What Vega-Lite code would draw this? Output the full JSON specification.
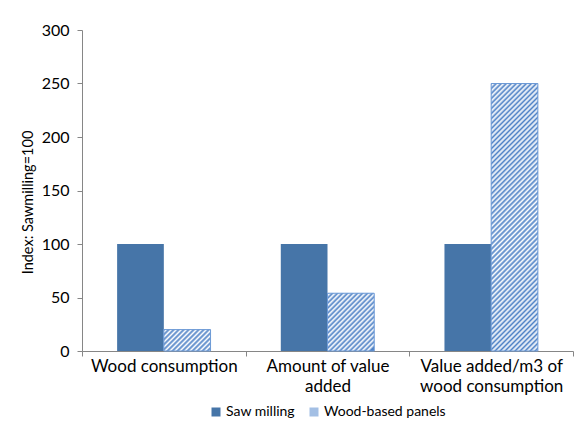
{
  "$schema": "https://vega.github.io/schema/vega-lite/v6.json",
  "width": 491,
  "height": 321,
  "autosize": {"type": "none"},
  "padding": {"left": 82, "top": 30, "right": 15, "bottom": 71},
  "background": "white",
  "config": {
    "view": {"stroke": null},
    "font": "Lato",
    "axis": {"labelFont": "Lato", "titleFont": "Lato", "labelColor": "#000", "titleColor": "#000", "domainColor": "#868686", "tickColor": "#868686", "grid": false},
    "legend": {"labelFont": "Lato", "labelColor": "#000"}
  },
  "data": {
    "values": [
      {"cat": "Wood consumption", "series": "Saw milling", "value": 100},
      {"cat": "Wood consumption", "series": "Wood-based panels", "value": 20},
      {"cat": "Amount of value added", "series": "Saw milling", "value": 100},
      {"cat": "Amount of value added", "series": "Wood-based panels", "value": 54},
      {"cat": "Value added/m3 of wood consumption", "series": "Saw milling", "value": 100},
      {"cat": "Value added/m3 of wood consumption", "series": "Wood-based panels", "value": 250}
    ]
  },
  "encoding": {
    "x": {
      "field": "cat", "type": "nominal", "sort": null,
      "scale": {"paddingInner": 0, "paddingOuter": 0},
      "axis": {
        "title": null, "labelAngle": 0, "tickBand": "extent", "tickSize": 5,
        "labelFontSize": 17, "labelPadding": 2, "labelLineHeight": 20,
        "labelExpr": "datum.label == 'Amount of value added' ? ['Amount of value', 'added'] : datum.label == 'Value added/m3 of wood consumption' ? ['Value added/m3 of', 'wood consumption'] : datum.label"
      }
    },
    "xOffset": {"field": "series", "type": "nominal", "sort": null, "scale": {"paddingInner": 0, "paddingOuter": 0.752}},
    "y": {
      "field": "value", "type": "quantitative",
      "scale": {"domain": [0, 300], "nice": false},
      "axis": {
        "title": "Index: Sawmilling=100", "titleFontSize": 14.5, "titleFontWeight": "normal", "titlePadding": 6, "titleY": 172,
        "values": [0, 50, 100, 150, 200, 250, 300], "tickSize": 5, "labelFontSize": 16, "labelPadding": 8
      }
    }
  },
  "layer": [
    {
      "mark": {"type": "bar"},
      "encoding": {
        "color": {
          "field": "series", "type": "nominal", "sort": null,
          "scale": {"range": ["#4675a8", "#a3bfe4"]},
          "legend": {"orient": "none", "legendX": 127, "legendY": 375, "direction": "horizontal", "title": null, "symbolType": "square", "symbolSize": 81, "labelFontSize": 14, "labelOffset": 3, "columnPadding": 12, "symbolStrokeWidth": 0}
        }
      }
    },
    {
      "transform": [{"filter": "datum.series == 'Wood-based panels'"}],
      "mark": {"type": "bar", "stroke": "#6d9ad6", "strokeWidth": 1},
      "encoding": {
        "fill": {
          "condition": [
            {"test": "datum.cat == 'Wood consumption'", "value": {"gradient": "linear", "x1": 0, "y1": 0, "x2": 1.2388, "y2": 0.5677, "stops": [
              {"offset": 0, "color": "#4f82c6"}, {"offset": 0.0357, "color": "#ffffff"}, {"offset": 0.0714, "color": "#4f82c6"}, {"offset": 0.1071, "color": "#ffffff"},
              {"offset": 0.1429, "color": "#4f82c6"}, {"offset": 0.1786, "color": "#ffffff"}, {"offset": 0.2143, "color": "#4f82c6"}, {"offset": 0.25, "color": "#ffffff"},
              {"offset": 0.2857, "color": "#4f82c6"}, {"offset": 0.3214, "color": "#ffffff"}, {"offset": 0.3571, "color": "#4f82c6"}, {"offset": 0.3929, "color": "#ffffff"},
              {"offset": 0.4286, "color": "#4f82c6"}, {"offset": 0.4643, "color": "#ffffff"}, {"offset": 0.5, "color": "#4f82c6"}, {"offset": 0.5357, "color": "#ffffff"},
              {"offset": 0.5714, "color": "#4f82c6"}, {"offset": 0.6071, "color": "#ffffff"}, {"offset": 0.6429, "color": "#4f82c6"}, {"offset": 0.6786, "color": "#ffffff"},
              {"offset": 0.7143, "color": "#4f82c6"}, {"offset": 0.75, "color": "#ffffff"}, {"offset": 0.7857, "color": "#4f82c6"}, {"offset": 0.8214, "color": "#ffffff"},
              {"offset": 0.8571, "color": "#4f82c6"}, {"offset": 0.8929, "color": "#ffffff"}, {"offset": 0.9286, "color": "#4f82c6"}, {"offset": 0.9643, "color": "#ffffff"},
              {"offset": 1, "color": "#4f82c6"}
            ]}},
            {"test": "datum.cat == 'Amount of value added'", "value": {"gradient": "linear", "x1": 0, "y1": 0, "x2": 0.8461, "y2": 1.0469, "stops": [
              {"offset": 0, "color": "#4f82c6"}, {"offset": 0.025, "color": "#ffffff"}, {"offset": 0.05, "color": "#4f82c6"}, {"offset": 0.075, "color": "#ffffff"},
              {"offset": 0.1, "color": "#4f82c6"}, {"offset": 0.125, "color": "#ffffff"}, {"offset": 0.15, "color": "#4f82c6"}, {"offset": 0.175, "color": "#ffffff"},
              {"offset": 0.2, "color": "#4f82c6"}, {"offset": 0.225, "color": "#ffffff"}, {"offset": 0.25, "color": "#4f82c6"}, {"offset": 0.275, "color": "#ffffff"},
              {"offset": 0.3, "color": "#4f82c6"}, {"offset": 0.325, "color": "#ffffff"}, {"offset": 0.35, "color": "#4f82c6"}, {"offset": 0.375, "color": "#ffffff"},
              {"offset": 0.4, "color": "#4f82c6"}, {"offset": 0.425, "color": "#ffffff"}, {"offset": 0.45, "color": "#4f82c6"}, {"offset": 0.475, "color": "#ffffff"},
              {"offset": 0.5, "color": "#4f82c6"}, {"offset": 0.525, "color": "#ffffff"}, {"offset": 0.55, "color": "#4f82c6"}, {"offset": 0.575, "color": "#ffffff"},
              {"offset": 0.6, "color": "#4f82c6"}, {"offset": 0.625, "color": "#ffffff"}, {"offset": 0.65, "color": "#4f82c6"}, {"offset": 0.675, "color": "#ffffff"},
              {"offset": 0.7, "color": "#4f82c6"}, {"offset": 0.725, "color": "#ffffff"}, {"offset": 0.75, "color": "#4f82c6"}, {"offset": 0.775, "color": "#ffffff"},
              {"offset": 0.8, "color": "#4f82c6"}, {"offset": 0.825, "color": "#ffffff"}, {"offset": 0.85, "color": "#4f82c6"}, {"offset": 0.875, "color": "#ffffff"},
              {"offset": 0.9, "color": "#4f82c6"}, {"offset": 0.925, "color": "#ffffff"}, {"offset": 0.95, "color": "#4f82c6"}, {"offset": 0.975, "color": "#ffffff"},
              {"offset": 1, "color": "#4f82c6"}
            ]}}
          ],
          "value": {"gradient": "linear", "x1": 0, "y1": 0, "x2": 0.1989, "y2": 1.1391, "stops": [
            {"offset": 0, "color": "#4f82c6"}, {"offset": 0.008, "color": "#ffffff"}, {"offset": 0.016, "color": "#4f82c6"}, {"offset": 0.024, "color": "#ffffff"},
            {"offset": 0.032, "color": "#4f82c6"}, {"offset": 0.04, "color": "#ffffff"}, {"offset": 0.048, "color": "#4f82c6"}, {"offset": 0.056, "color": "#ffffff"},
            {"offset": 0.064, "color": "#4f82c6"}, {"offset": 0.072, "color": "#ffffff"}, {"offset": 0.08, "color": "#4f82c6"}, {"offset": 0.088, "color": "#ffffff"},
            {"offset": 0.096, "color": "#4f82c6"}, {"offset": 0.104, "color": "#ffffff"}, {"offset": 0.112, "color": "#4f82c6"}, {"offset": 0.12, "color": "#ffffff"},
            {"offset": 0.128, "color": "#4f82c6"}, {"offset": 0.136, "color": "#ffffff"}, {"offset": 0.144, "color": "#4f82c6"}, {"offset": 0.152, "color": "#ffffff"},
            {"offset": 0.16, "color": "#4f82c6"}, {"offset": 0.168, "color": "#ffffff"}, {"offset": 0.176, "color": "#4f82c6"}, {"offset": 0.184, "color": "#ffffff"},
            {"offset": 0.192, "color": "#4f82c6"}, {"offset": 0.2, "color": "#ffffff"}, {"offset": 0.208, "color": "#4f82c6"}, {"offset": 0.216, "color": "#ffffff"},
            {"offset": 0.224, "color": "#4f82c6"}, {"offset": 0.232, "color": "#ffffff"}, {"offset": 0.24, "color": "#4f82c6"}, {"offset": 0.248, "color": "#ffffff"},
            {"offset": 0.256, "color": "#4f82c6"}, {"offset": 0.264, "color": "#ffffff"}, {"offset": 0.272, "color": "#4f82c6"}, {"offset": 0.28, "color": "#ffffff"},
            {"offset": 0.288, "color": "#4f82c6"}, {"offset": 0.296, "color": "#ffffff"}, {"offset": 0.304, "color": "#4f82c6"}, {"offset": 0.312, "color": "#ffffff"},
            {"offset": 0.32, "color": "#4f82c6"}, {"offset": 0.328, "color": "#ffffff"}, {"offset": 0.336, "color": "#4f82c6"}, {"offset": 0.344, "color": "#ffffff"},
            {"offset": 0.352, "color": "#4f82c6"}, {"offset": 0.36, "color": "#ffffff"}, {"offset": 0.368, "color": "#4f82c6"}, {"offset": 0.376, "color": "#ffffff"},
            {"offset": 0.384, "color": "#4f82c6"}, {"offset": 0.392, "color": "#ffffff"}, {"offset": 0.4, "color": "#4f82c6"}, {"offset": 0.408, "color": "#ffffff"},
            {"offset": 0.416, "color": "#4f82c6"}, {"offset": 0.424, "color": "#ffffff"}, {"offset": 0.432, "color": "#4f82c6"}, {"offset": 0.44, "color": "#ffffff"},
            {"offset": 0.448, "color": "#4f82c6"}, {"offset": 0.456, "color": "#ffffff"}, {"offset": 0.464, "color": "#4f82c6"}, {"offset": 0.472, "color": "#ffffff"},
            {"offset": 0.48, "color": "#4f82c6"}, {"offset": 0.488, "color": "#ffffff"}, {"offset": 0.496, "color": "#4f82c6"}, {"offset": 0.504, "color": "#ffffff"},
            {"offset": 0.512, "color": "#4f82c6"}, {"offset": 0.52, "color": "#ffffff"}, {"offset": 0.528, "color": "#4f82c6"}, {"offset": 0.536, "color": "#ffffff"},
            {"offset": 0.544, "color": "#4f82c6"}, {"offset": 0.552, "color": "#ffffff"}, {"offset": 0.56, "color": "#4f82c6"}, {"offset": 0.568, "color": "#ffffff"},
            {"offset": 0.576, "color": "#4f82c6"}, {"offset": 0.584, "color": "#ffffff"}, {"offset": 0.592, "color": "#4f82c6"}, {"offset": 0.6, "color": "#ffffff"},
            {"offset": 0.608, "color": "#4f82c6"}, {"offset": 0.616, "color": "#ffffff"}, {"offset": 0.624, "color": "#4f82c6"}, {"offset": 0.632, "color": "#ffffff"},
            {"offset": 0.64, "color": "#4f82c6"}, {"offset": 0.648, "color": "#ffffff"}, {"offset": 0.656, "color": "#4f82c6"}, {"offset": 0.664, "color": "#ffffff"},
            {"offset": 0.672, "color": "#4f82c6"}, {"offset": 0.68, "color": "#ffffff"}, {"offset": 0.688, "color": "#4f82c6"}, {"offset": 0.696, "color": "#ffffff"},
            {"offset": 0.704, "color": "#4f82c6"}, {"offset": 0.712, "color": "#ffffff"}, {"offset": 0.72, "color": "#4f82c6"}, {"offset": 0.728, "color": "#ffffff"},
            {"offset": 0.736, "color": "#4f82c6"}, {"offset": 0.744, "color": "#ffffff"}, {"offset": 0.752, "color": "#4f82c6"}, {"offset": 0.76, "color": "#ffffff"},
            {"offset": 0.768, "color": "#4f82c6"}, {"offset": 0.776, "color": "#ffffff"}, {"offset": 0.784, "color": "#4f82c6"}, {"offset": 0.792, "color": "#ffffff"},
            {"offset": 0.8, "color": "#4f82c6"}, {"offset": 0.808, "color": "#ffffff"}, {"offset": 0.816, "color": "#4f82c6"}, {"offset": 0.824, "color": "#ffffff"},
            {"offset": 0.832, "color": "#4f82c6"}, {"offset": 0.84, "color": "#ffffff"}, {"offset": 0.848, "color": "#4f82c6"}, {"offset": 0.856, "color": "#ffffff"},
            {"offset": 0.864, "color": "#4f82c6"}, {"offset": 0.872, "color": "#ffffff"}, {"offset": 0.88, "color": "#4f82c6"}, {"offset": 0.888, "color": "#ffffff"},
            {"offset": 0.896, "color": "#4f82c6"}, {"offset": 0.904, "color": "#ffffff"}, {"offset": 0.912, "color": "#4f82c6"}, {"offset": 0.92, "color": "#ffffff"},
            {"offset": 0.928, "color": "#4f82c6"}, {"offset": 0.936, "color": "#ffffff"}, {"offset": 0.944, "color": "#4f82c6"}, {"offset": 0.952, "color": "#ffffff"},
            {"offset": 0.96, "color": "#4f82c6"}, {"offset": 0.968, "color": "#ffffff"}, {"offset": 0.976, "color": "#4f82c6"}, {"offset": 0.984, "color": "#ffffff"},
            {"offset": 0.992, "color": "#4f82c6"}, {"offset": 1, "color": "#ffffff"}
          ]}
        }
      }
    }
  ]
}
